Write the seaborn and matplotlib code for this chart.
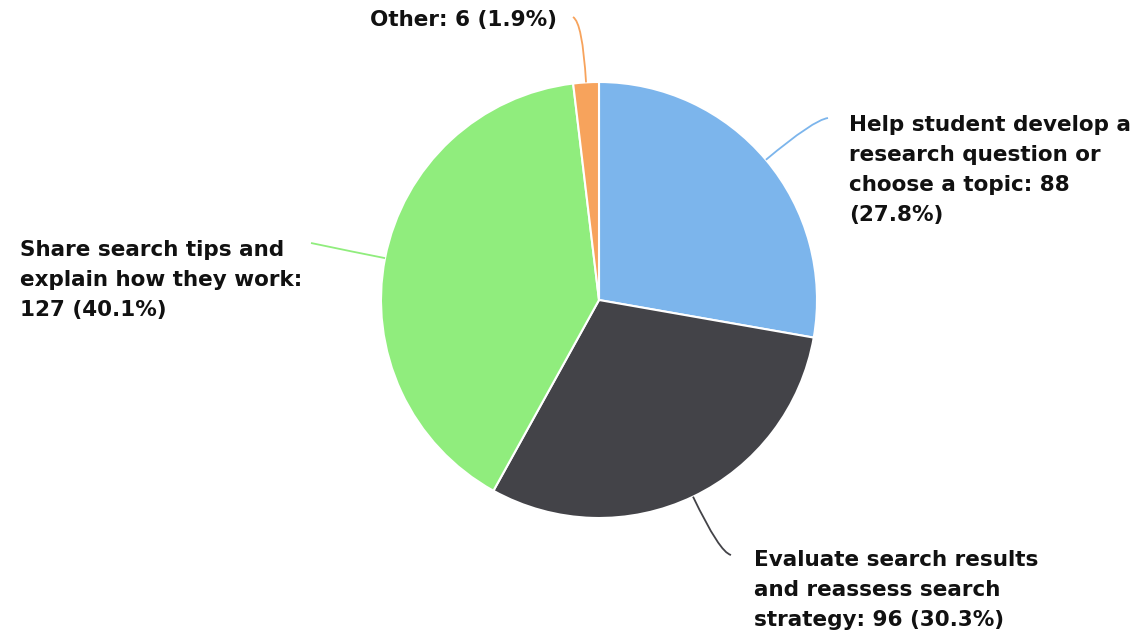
import numpy as np
import matplotlib
matplotlib.use("Agg")
import matplotlib.pyplot as plt
from matplotlib.path import Path
from matplotlib.patches import PathPatch
import seaborn as sns

# Survey responses
categories = [
    "Help student develop a\nresearch question or\nchoose a topic",
    "Evaluate search results\nand reassess search\nstrategy",
    "Share search tips and\nexplain how they work",
    "Other",
]
counts = [88, 96, 127, 6]
colors = ["#7cb5ec", "#434348", "#90ed7d", "#f7a35c"]

sns.set_theme(style="white")
plt.rcParams["font.family"] = ["DejaVu Sans"]

W, H = 1140, 635
fig = plt.figure(figsize=(W / 100, H / 100), dpi=100)
ax = fig.add_axes([0, 0, 1, 1])

cx, cy, r = 599, 300, 218
# y axis is inverted, so counterclock=True renders clockwise on screen
wedges, _ = ax.pie(
    counts, colors=colors, startangle=-90, counterclock=True,
    center=(cx, cy), radius=r, frame=True,
    wedgeprops=dict(edgecolor="white", linewidth=1.5),
)
ax.set_xlim(0, W)
ax.set_ylim(H, 0)
ax.set_aspect("equal")
ax.axis("off")

total = sum(counts)
# label layout: (text x, text y, ha, va, connector end x, end y, bend)
layout = [
    (849, 170, "left", "center", 828, 118, 62),
    (754, 590, "left", "center", 731, 555, 62),
    (20, 280, "left", "center", 311, 243, 30),
    (557, 20, "right", "center", 573, 17, 60),
]

cum = 0
for cat, n, col, (tx, ty, ha, va, ex, ey, bend) in zip(categories, counts, colors, layout):
    mid = (cum + n / 2) / total * 2 * np.pi
    cum += n
    # angle measured clockwise from 12 o'clock, in screen coordinates
    dx, dy = np.sin(mid), -np.cos(mid)
    sx, sy = cx + r * dx, cy + r * dy
    px, py = sx + bend * dx, sy + bend * dy
    path = Path([(sx, sy), (px, py), (ex, ey)], [Path.MOVETO, Path.CURVE3, Path.CURVE3])
    ax.add_patch(PathPatch(path, fill=False, edgecolor=col, linewidth=1.3))
    pct = n / total * 100
    label = f"{cat}: {n} ({pct:.1f}%)"
    if cat.startswith("Help"):
        label = f"{cat}: {n}\n({pct:.1f}%)"
    elif cat.startswith("Share"):
        label = f"{cat}:\n{n} ({pct:.1f}%)"
    ax.text(tx, ty, label, ha=ha, va=va, fontsize=15.5, fontweight="bold",
            color="#111111", linespacing=1.62)

fig.savefig("out.png", dpi=100, facecolor="white")
